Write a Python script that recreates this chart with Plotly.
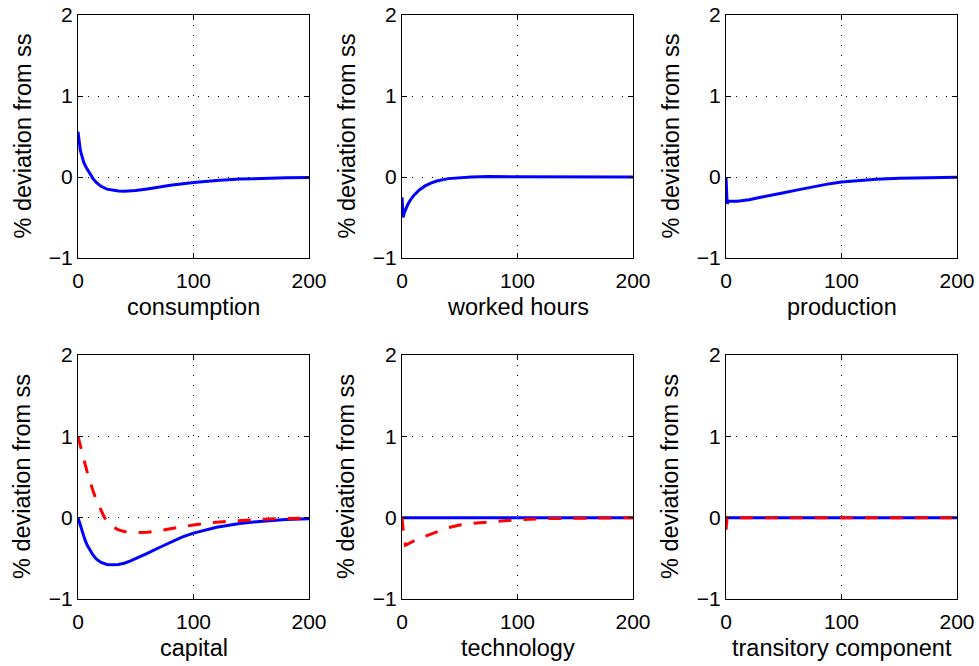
import plotly.graph_objects as go

# ---- data ----
t_cons = [0, 1, 2, 3, 5, 7, 10, 13, 16, 20, 25, 30, 35, 40, 50, 60, 70, 80, 100, 120, 140, 160, 180, 200]
consumption = [0.56, 0.40, 0.33, 0.28, 0.18, 0.12, 0.045, -0.02, -0.07, -0.115, -0.15, -0.165, -0.173, -0.176, -0.168, -0.148, -0.125, -0.102, -0.068, -0.042, -0.026, -0.016, -0.01, -0.007]

t_hours = [0, 1, 2, 3, 5, 7, 10, 15, 20, 25, 30, 40, 50, 60, 75, 100, 150, 200]
hours = [-0.25, -0.50, -0.44, -0.40, -0.34, -0.29, -0.23, -0.16, -0.11, -0.075, -0.05, -0.02, -0.006, 0.0, 0.005, 0.005, 0.002, 0.0]

t_prod = [0, 1, 2, 5, 10, 15, 20, 30, 40, 50, 60, 70, 80, 90, 100, 115, 130, 150, 175, 200]
production = [0.0, -0.33, -0.30, -0.30, -0.30, -0.29, -0.28, -0.25, -0.225, -0.195, -0.165, -0.135, -0.108, -0.082, -0.062, -0.042, -0.028, -0.016, -0.007, -0.003]

t_cap = [0, 2, 4, 6, 8, 10, 13, 16, 20, 25, 30, 35, 40, 45, 50, 60, 70, 80, 90, 100, 110, 120, 140, 160, 180, 200]
capital_blue = [0.0, -0.1, -0.19, -0.27, -0.34, -0.39, -0.46, -0.51, -0.55, -0.575, -0.58, -0.575, -0.56, -0.535, -0.505, -0.44, -0.37, -0.3, -0.24, -0.19, -0.15, -0.118, -0.072, -0.043, -0.024, -0.012]

t_cap_red = [0, 2, 5, 8, 10, 13, 16, 20, 23, 26, 30, 35, 40, 50, 60, 70, 80, 90, 100, 120, 140, 160, 180, 200]
capital_red = [1.0, 0.9, 0.72, 0.56, 0.46, 0.33, 0.21, 0.08, 0.0, -0.06, -0.11, -0.15, -0.17, -0.185, -0.18, -0.16, -0.135, -0.11, -0.09, -0.055, -0.035, -0.02, -0.01, -0.005]

t_tech = [0, 1, 3, 8, 14, 20, 26, 32, 38, 50, 62, 80, 100, 125, 150, 175, 200]
tech_blue = [0.0] * len(t_tech)
tech_red = [0.0, -0.15, -0.34, -0.3, -0.26, -0.23, -0.2, -0.165, -0.13, -0.09, -0.07, -0.045, -0.025, -0.012, -0.006, -0.003, -0.001]

t_trans = [0, 1, 200]
trans_blue = [0.0, 0.0, 0.0]
trans_red = [-0.15, 0.0, 0.0]

titles = ["consumption", "worked hours", "production", "capital", "technology", "transitory component"]
x_ticks = [0, 100, 200]
y_ticks = [-1, 0, 1, 2]
y_ticktext = ["\u22121", "0", "1", "2"]
ylabel = "% deviation from ss"

panels = [
    (t_cons, consumption, None, None),
    (t_hours, hours, None, None),
    (t_prod, production, None, None),
    (t_cap, capital_blue, t_cap_red, capital_red),
    (t_tech, tech_blue, t_tech, tech_red),
    (t_trans, trans_blue, t_trans, trans_red),
]

W, H = 979, 666
cols_px = [(78, 309), (402, 633), (726, 957)]
rows_px = [(15, 258), (355, 599)]

fig = go.Figure()
font = "Liberation Sans, Arial, Helvetica, sans-serif"
TICK_FS = 21
LAB_FS = 23.5

for i, (t, blue, tr, red) in enumerate(panels):
    r, c = divmod(i, 3)
    idx = "" if i == 0 else str(i + 1)
    xa, ya = "x" + idx, "y" + idx
    fig.add_trace(go.Scatter(x=t, y=blue, mode="lines", line=dict(color="#0000ff", width=3),
                             xaxis=xa, yaxis=ya, showlegend=False, hoverinfo="skip"))
    if red is not None:
        fig.add_trace(go.Scatter(x=tr, y=red, mode="lines",
                                 line=dict(color="#ff0000", width=3, dash="13px,12px"),
                                 xaxis=xa, yaxis=ya, showlegend=False, hoverinfo="skip"))
    x0, x1 = cols_px[c]
    y0, y1 = rows_px[r]
    common = dict(showline=True, linecolor="black", linewidth=1, mirror="ticks",
                  ticks="inside", ticklen=5, tickcolor="black", zeroline=False,
                  showgrid=True, gridcolor="black", gridwidth=1, griddash="1px,9px",
                  automargin=False,
                  tickfont=dict(family=font, size=TICK_FS, color="black"))
    fig.layout["xaxis" + idx] = dict(domain=[x0 / W, x1 / W], range=[0, 200], tickvals=x_ticks,
                                     anchor=ya, ticklabelstandoff=4, **common)
    fig.layout["yaxis" + idx] = dict(domain=[1 - y1 / H, 1 - y0 / H], range=[-1, 2], tickvals=y_ticks,
                                     ticktext=y_ticktext, anchor=xa, **common)
    # axis labels
    fig.add_annotation(text=titles[i], xref="paper", yref="paper",
                       x=(x0 + x1) / 2 / W, y=1 - (y1 + 49) / H,
                       showarrow=False, xanchor="center", yanchor="middle",
                       font=dict(family=font, size=LAB_FS, color="black"))
    fig.add_annotation(text=ylabel, xref="paper", yref="paper",
                       x=(x0 - 56) / W, y=1 - (y0 + y1) / 2 / H, textangle=-90,
                       showarrow=False, xanchor="center", yanchor="middle",
                       font=dict(family=font, size=LAB_FS, color="black"))

fig.update_layout(width=W, height=H, autosize=False, margin=dict(l=0, r=0, t=0, b=0),
                  plot_bgcolor="white", paper_bgcolor="white")
fig.write_html("out.html", config={"displayModeBar": False},
               post_script="document.body.style.margin='0px';document.body.style.overflow='hidden';")
